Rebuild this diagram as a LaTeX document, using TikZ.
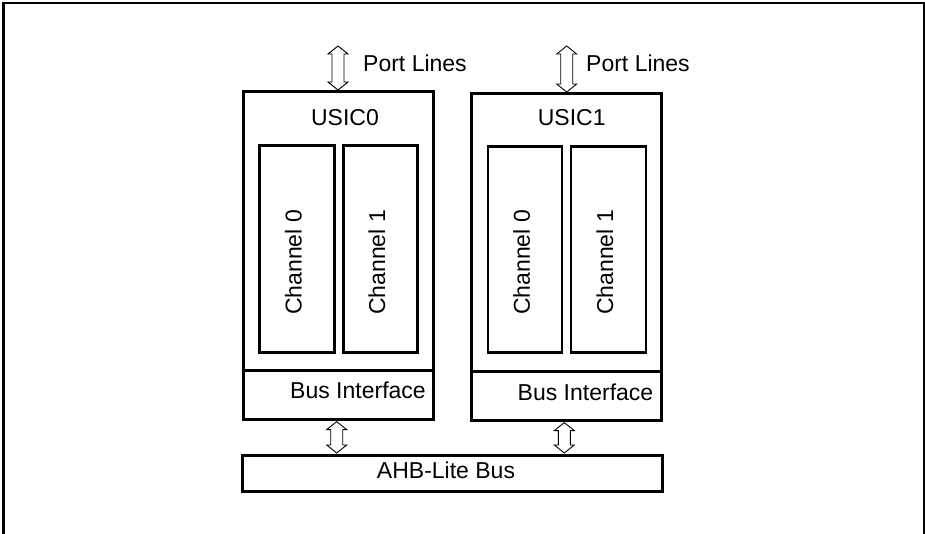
\documentclass[tikz,border=0pt]{standalone}
\usepackage{fontspec}
\setmainfont{Liberation Sans}
\usetikzlibrary{calc}
\tikzset{
  frame/.style={line width=2.6pt},
  blk/.style={draw, line width=2.6pt, rectangle, inner sep=0pt, anchor=north west},
  lbl/.style={inner sep=0pt, font=\fontsize{23}{27}\selectfont},
  arr/.style={draw, line width=0.9pt, fill=white, line join=miter},
}
\newcommand\DblArrow[2]{%
  \path[arr] let \p1=#1, \p2=#2 in
    (\x1,\y1) -- (\x1+10pt,\y1-8pt) -- (\x1+6pt,\y1-8pt) -- (\x1+6pt,\y2+8pt)
    -- (\x1+10pt,\y2+8pt) -- (\x1,\y2) -- (\x1-10pt,\y2+8pt) -- (\x1-6pt,\y2+8pt)
    -- (\x1-6pt,\y1-8pt) -- (\x1-10pt,\y1-8pt) -- cycle;}
\begin{document}
\begin{tikzpicture}[x=1pt,y=-1pt]
\useasboundingbox (0,0) rectangle (925,533);
\path[fill=white] (0,0) rectangle (925,533);
% outer frame (bottom edge cut off)
\draw[frame] (3.7,545) -- (3.7,2.8) -- (924,2.8) -- (924,545);

% USIC0
\node[blk, minimum width=190pt, minimum height=328pt] (u0) at (242,90) {};
\node[blk, minimum width=190pt, minimum height=49pt] (bi0) at (242,369) {};
\node[blk, minimum width=75pt, minimum height=207pt] (c00) at (258,144) {};
\node[blk, minimum width=74pt, minimum height=207pt] (c01) at (342,144) {};
\node[lbl] (t0) at (345,118) {USIC0};
\node[lbl] (bt0) at (358,390.5) {Bus Interface};
\node[lbl, rotate=90] (tc00) at (293.5,262.5) {Channel 0};
\node[lbl, rotate=90] (tc01) at (377,262.5) {Channel 1};

% USIC1
\node[blk, minimum width=190pt, minimum height=327pt] (u1) at (470,92) {};
\node[blk, minimum width=190pt, minimum height=49pt] (bi1) at (470,370) {};
\node[blk, minimum width=74pt, minimum height=206pt] (c10) at (486.5,145) {};
\node[blk, minimum width=75pt, minimum height=206pt] (c11) at (569.5,145) {};
\node[lbl] (t1) at (571.7,118) {USIC1};
\node[lbl] (bt1) at (585.5,392.5) {Bus Interface};
\node[lbl, rotate=90] (tc10) at (521.7,262.5) {Channel 0};
\node[lbl, rotate=90] (tc11) at (605,262.5) {Channel 1};

% AHB-Lite bus
\node[blk, minimum width=420pt, minimum height=36pt] (ahb) at (241,454) {};
\node[lbl] (tahb) at (446,470.5) {AHB-Lite Bus};

% Port lines
\coordinate (pl0) at (338,46);
\coordinate (pl1) at (566.7,46);
\node[lbl, anchor=west] (tp0) at (363,63.5) {Port Lines};
\node[lbl, anchor=west] (tp1) at (586,63.5) {Port Lines};

% double arrows
\coordinate (a0) at (336.7,0);
\coordinate (a1) at (564.3,0);
\DblArrow{(pl0)}{(pl0 |- u0.north)}
\DblArrow{(pl1)}{(pl1 |- u1.north)}
\DblArrow{($(a0 |- bi0.south)+(0,1)$)}{($(a0 |- ahb.north)+(0,-1)$)}
\DblArrow{($(a1 |- bi1.south)+(0,1)$)}{($(a1 |- ahb.north)+(0,-1)$)}
\end{tikzpicture}
\end{document}
